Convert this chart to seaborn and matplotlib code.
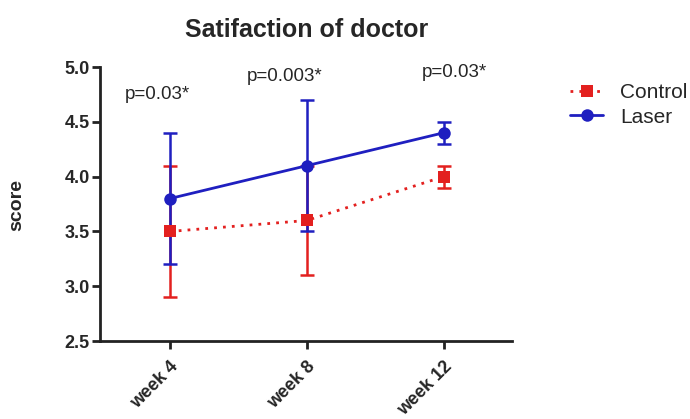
import matplotlib
matplotlib.use("Agg")
import matplotlib.pyplot as plt
import pandas as pd
import seaborn as sns

weeks = ["week 4", "week 8", "week 12"]
control_mean = [3.5, 3.6, 4.0]
control_err = [0.6, 0.5, 0.1]
laser_mean = [3.8, 4.1, 4.4]
laser_err = [0.6, 0.6, 0.1]
p_labels = ["p=0.03*", "p=0.003*", "p=0.03*"]
p_heights = [4.745, 4.91, 4.95]
p_shift = [-0.09, -0.16, 0.08]

RED = "#e3201f"
BLUE = "#1f1fc0"


def build_frame():
    rows = []
    for i, w in enumerate(weeks):
        rows.append({"pos": i, "week": w, "group": "Control", "score": control_mean[i], "err": control_err[i]})
        rows.append({"pos": i, "week": w, "group": "Laser", "score": laser_mean[i], "err": laser_err[i]})
    return pd.DataFrame(rows)


def plot(df):
    sns.set_style("ticks")
    plt.rcParams["font.family"] = ["Liberation Sans", "DejaVu Sans"]

    fig = plt.figure(figsize=(6.9, 4.19), dpi=100)
    ax = fig.add_axes([0.145, 0.186, 0.597, 0.654])

    for grp, color in [("Control", RED), ("Laser", BLUE)]:
        sub = df[df["group"] == grp]
        ax.errorbar(sub["pos"], sub["score"], yerr=sub["err"], fmt="none",
                    ecolor=color, elinewidth=1.8, capsize=5, capthick=1.8, zorder=2)

    sns.lineplot(
        data=df, x="pos", y="score", hue="group", style="group",
        palette={"Control": RED, "Laser": BLUE},
        markers={"Control": "s", "Laser": "o"},
        dashes={"Control": (1, 2.2), "Laser": ""},
        markersize=9, linewidth=2, markeredgewidth=0,
        ax=ax, zorder=3,
    )

    for i, lab in enumerate(p_labels):
        ax.text(i + p_shift[i], p_heights[i], lab, ha="center", va="center", fontsize=13.5)

    ax.set_xlim(-0.51, 2.5)
    ax.set_ylim(2.5, 5.0)
    ax.set_xticks(range(len(weeks)))
    ax.set_xticklabels(weeks, rotation=45, ha="right", rotation_mode="anchor",
                       fontsize=13, fontweight="bold")
    ax.set_yticks([2.5, 3.0, 3.5, 4.0, 4.5, 5.0])
    ax.set_yticklabels(["2.5", "3.0", "3.5", "4.0", "4.5", "5.0"], fontsize=13, fontweight="bold")
    ax.tick_params(axis="both", width=2, length=6, color="#222222")
    ax.tick_params(axis="y", pad=1.5)
    ax.tick_params(axis="x", pad=6)
    for side in ["left", "bottom"]:
        ax.spines[side].set_linewidth(2)
        ax.spines[side].set_color("#222222")
    sns.despine(ax=ax)

    ax.set_xlabel("")
    ax.set_ylabel("")
    fig.text(17 / 690, 1 - 205 / 419, "score", rotation=90, ha="center", va="center",
             fontsize=14, fontweight="bold")
    fig.text(307 / 690, 1 - 30 / 419, "Satifaction of doctor", ha="center", va="center",
             fontsize=18, fontweight="bold")

    handles, labels = ax.get_legend_handles_labels()
    ax.legend(handles, labels, loc="center left", bbox_to_anchor=(570 / 690, 1 - 105 / 419),
              bbox_transform=fig.transFigure, frameon=False, fontsize=15,
              handlelength=1.6, handletextpad=0.8, labelspacing=0.25,
              borderpad=0, borderaxespad=0)

    fig.savefig("out.png", dpi=100)
    plt.close(fig)


if __name__ == "__main__":
    plot(build_frame())
